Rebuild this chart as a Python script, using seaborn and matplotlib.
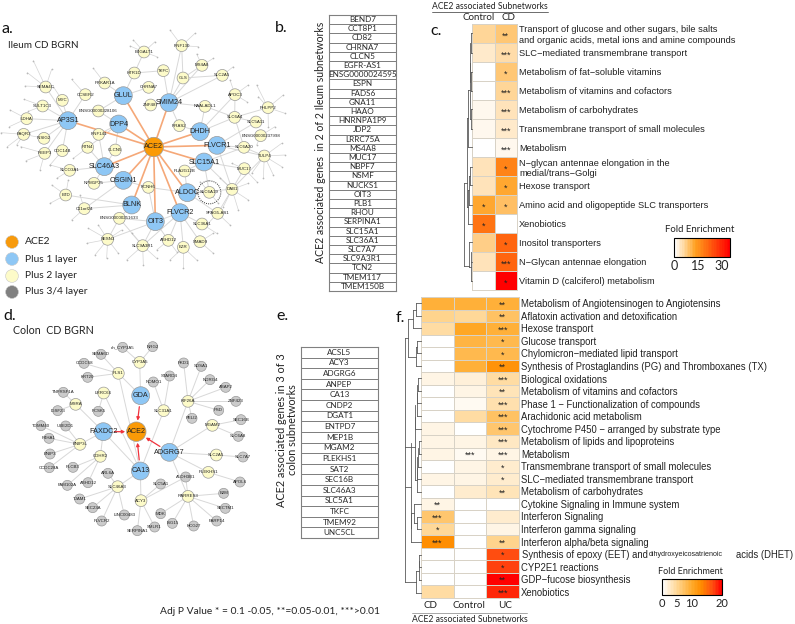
import numpy as np
import pandas as pd
import seaborn as sns
import matplotlib.pyplot as plt
from matplotlib.colors import LinearSegmentedColormap

W, H = 795, 624
SANS = ['Lato', 'DejaVu Sans']
ARIAL = ['Liberation Sans', 'DejaVu Sans']

ileum_ace2 = ('ACE2', 461, 351)
ileum_blue = [('GLUL', 370, 197), ('SMIM24', 507, 218), ('DPP4', 356, 282), ('AP3S1', 204, 272),
              ('DHDH', 600, 305), ('FLVCR1', 651, 346), ('SLC15A1', 612, 396), ('SLC46A3', 313, 410),
              ('OSGIN1', 370, 451), ('ALDOC', 562, 488), ('BLNK', 395, 525), ('FLVCR2', 540, 548),
              ('OIT3', 466, 575)]
ileum_yellow = [('RNF130', 545, 47), ('B4GALT1', 432, 66), ('MS4A8', 606, 106), ('TKFC', 490, 122),
                ('HTR1D', 403, 129), ('GLS', 549, 144), ('SLC2A5', 667, 136), ('PRKAR1A', 314, 159),
                ('CHRNA7', 446, 172), ('SEMA4C', 137, 171), ('APOC3', 705, 194), ('CCSER2', 256, 194),
                ('MYC', 187, 211), ('ZNF487', 452, 225), ('NAALADL1', 615, 229), ('PHLPP2', 804, 233),
                ('SULT1C3', 128, 228), ('ENSG00000228106', 295, 243), ('SLC6A4', 704, 262), ('LDHA', 80, 266),
                ('RRAS2', 538, 287), ('SLC5A11', 768, 276), ('PAQR3', 71, 313), ('RNF141', 296, 313),
                ('ENSG00000237998', 782, 317), ('INSIG2', 132, 325), ('RTN4', 263, 352), ('CLCN5', 346, 360),
                ('SLC6A20', 732, 352), ('CDC14B', 187, 362), ('REEP3', 134, 370), ('TULP4', 793, 378),
                ('SLCO3A1', 209, 421), ('MUC17', 733, 416), ('PLA2G12B', 554, 423), ('NPM1P25', 282, 460),
                ('KCNH6', 445, 472), ('DAB1', 696, 478), ('SLC6A19', 628, 487), ('BTD', 197, 495),
                ('C11orf24', 253, 536), ('SPAG5-AS1', 653, 550), ('ENSG00000251633', 358, 565),
                ('SLC36A1', 606, 582), ('SESN3', 323, 628), ('SLC9A3R1', 428, 647), ('ABHD12', 505, 631),
                ('SMAD9', 600, 635), ('EZR', 550, 652)]
ileum_links = {'AP3S1': ['SEMA4C', 'MYC', 'SULT1C3', 'LDHA', 'PAQR3', 'INSIG2', 'REEP3', 'CDC14B', 'CCSER2'],
               'GLUL': ['PRKAR1A', 'CHRNA7', 'HTR1D', 'ENSG00000228106'],
               'DPP4': ['ENSG00000228106', 'RNF141', 'CLCN5', 'RTN4'],
               'SLC46A3': ['SLCO3A1', 'NPM1P25', 'RTN4', 'RNF141', 'CLCN5'],
               'OSGIN1': ['NPM1P25', 'KCNH6', 'C11orf24'],
               'BLNK': ['ENSG00000251633', 'C11orf24', 'BTD'],
               'OIT3': ['ENSG00000251633', 'SLC9A3R1', 'ABHD12', 'KCNH6'],
               'FLVCR2': ['SLC36A1', 'ABHD12', 'EZR', 'SMAD9', 'SLC9A3R1', 'SESN3'],
               'ALDOC': ['PLA2G12B', 'SLC6A19', 'DAB1', 'SPAG5-AS1', 'KCNH6'],
               'SLC15A1': ['SLC6A19', 'DAB1', 'MUC17', 'PLA2G12B', 'SLC6A20'],
               'FLVCR1': ['SLC6A20', 'TULP4', 'DAB1', 'SLC5A11'],
               'DHDH': ['NAALADL1', 'SLC6A4', 'RRAS2', 'APOC3'],
               'SMIM24': ['TKFC', 'GLS', 'ZNF487', 'RRAS2', 'NAALADL1', 'MS4A8', 'SLC2A5', 'RNF130'],
               'RNF130': ['GLS'], 'HTR1D': ['B4GALT1', 'TKFC'], 'GLS': ['MS4A8', 'SLC2A5'],
               'SLC6A4': ['APOC3', 'SLC5A11', 'NAALADL1', 'PHLPP2'], 'DAB1': ['TULP4', 'MUC17', 'SPAG5-AS1'],
               'SLC6A20': ['TULP4', 'SLC6A4'], 'ENSG00000251633': ['SESN3', 'SLC9A3R1']}
ileum_leaves = {'SEMA4C': [(100, 92), (82, 128), (75, 168), (155, 118)],
                'SULT1C3': [(72, 208), (85, 244)], 'LDHA': [(30, 240), (28, 290)],
                'PAQR3': [(3, 308), (22, 350), (50, 345)], 'REEP3': [(62, 350), (78, 392), (120, 420)],
                'INSIG2': [(82, 315)], 'MYC': [(160, 170)], 'CCSER2': [(215, 148)], 'PRKAR1A': [(280, 115)],
                'B4GALT1': [(400, 30), (390, 48), (465, 35), (470, 80)], 'RNF130': [(510, 0), (585, 10), (595, 50)],
                'MS4A8': [(590, 72), (640, 85)], 'SLC2A5': [(700, 110)], 'APOC3': [(745, 165), (690, 150), (740, 215)],
                'PHLPP2': [(770, 165), (850, 195), (855, 250), (805, 290), (775, 200)],
                'ENSG00000237998': [(825, 290), (770, 345)],
                'TULP4': [(845, 340), (855, 375), (845, 410), (820, 435), (790, 445), (755, 430)],
                'MUC17': [(770, 455), (695, 400)], 'DAB1': [(745, 460), (745, 510), (715, 540), (670, 530), (660, 445)],
                'SLC6A19': [(600, 455), (655, 520)], 'SPAG5-AS1': [(690, 585), (620, 585)],
                'BTD': [(155, 465), (150, 520), (205, 450)], 'SLCO3A1': [(170, 445), (150, 405)],
                'SESN3': [(265, 595), (260, 640), (285, 675), (320, 685), (355, 670), (365, 600), (295, 585)],
                'SLC9A3R1': [(380, 690), (430, 705), (470, 685), (395, 610)],
                'EZR': [(510, 690), (550, 715), (590, 690)], 'SMAD9': [(640, 670), (640, 610)],
                'ABHD12': [(470, 660), (530, 665)], 'C11orf24': [(215, 570), (240, 495)],
                'CDC14B': [(150, 405)], 'RTN4': [(220, 385)], 'SLC36A1': [(650, 610)]}

## Panel d - colon network
colon_ace2 = ('ACE2', 409, 365)
colon_blue = [('GDA', 422, 257), ('FAXDC2', 310, 365), ('ADGRG7', 508, 427), ('CA13', 421, 483)]
colon_yellow = [('CYP3A5', 419, 157), ('PLS1', 355, 190), ('LRRC66', 311, 249), ('KIF26A', 564, 274),
                ('SLC31A1', 491, 302), ('MSRA', 227, 283), ('MGAM2', 637, 346), ('BNIP3L', 240, 403),
                ('CDHR2', 301, 439), ('SLC2A5', 649, 435), ('PLEKHS1', 625, 487), ('SLC46A3', 353, 530),
                ('ACY3', 423, 572), ('RARRES3', 564, 559)]
colon_gray = [('oh_CYP3A5', 368, 112), ('NRG2', 458, 110), ('SEMA6D', 303, 133), ('CCDC68', 252, 160),
              ('KRT20', 263, 202), ('PKD1', 551, 159), ('SDSA1', 604, 169), ('STARD4', 509, 198),
              ('NOMO1', 460, 216), ('NDRG4', 630, 209), ('ABAP2', 677, 232), ('ZNF423', 708, 274),
              ('TNFRSF1A', 190, 247), ('PSD', 656, 301), ('PCSK5', 295, 304), ('PELI2', 576, 325),
              ('IGSF23', 173, 302), ('SEC16B', 723, 329), ('TOMM40', 123, 347), ('UBE2D1', 197, 348),
              ('P4HA1', 147, 385), ('SLC6A8', 715, 379), ('BNIP3', 150, 432), ('SLC7A7', 729, 441),
              ('CCDC28A', 148, 473), ('PLCB3', 219, 472), ('ARL6A', 324, 490), ('ALDH3B1', 557, 501),
              ('APOL6', 720, 516), ('FAM102A', 202, 526), ('ABHD12', 264, 518), ('SLC5A1', 482, 522),
              ('B2M', 671, 550), ('TJAM1', 239, 567), ('SEC23A', 278, 593), ('SECTM1', 676, 595),
              ('LINC00483', 373, 615), ('MDK', 482, 611), ('PARP14', 650, 633), ('FLVCR2', 305, 633),
              ('ISG15', 517, 640), ('SMLR1', 464, 651), ('HCG27', 581, 648), ('SERPINA1', 412, 662)]
colon_links = {'CYP3A5': ['oh_CYP3A5', 'NRG2', 'GDA'], 'PLS1': ['SEMA6D', 'CCDC68', 'KRT20', 'GDA', 'CA13'],
               'LRRC66': ['PCSK5', 'CA13'], 'KIF26A': ['PKD1', 'SDSA1', 'NDRG4', 'ABAP2', 'ZNF423', 'PSD', 'PELI2', 'ADGRG7'],
               'SLC31A1': ['STARD4', 'NOMO1', 'CA13'], 'MSRA': ['TNFRSF1A', 'IGSF23', 'FAXDC2'],
               'MGAM2': ['SEC16B', 'SLC6A8', 'ADGRG7'], 'BNIP3L': ['TOMM40', 'UBE2D1', 'P4HA1', 'BNIP3', 'CCDC28A', 'FAXDC2'],
               'CDHR2': ['PLCB3', 'FAM102A', 'ABHD12', 'FAXDC2'], 'SLC2A5': ['SLC7A7', 'ADGRG7'],
               'PLEKHS1': ['APOL6', 'ADGRG7'], 'SLC46A3': ['ARL6A', 'TJAM1', 'SEC23A', 'FLVCR2', 'LINC00483', 'CA13'],
               'ACY3': ['SLC5A1', 'ALDH3B1', 'SERPINA1', 'SMLR1', 'CA13'],
               'RARRES3': ['B2M', 'SECTM1', 'PARP14', 'HCG27', 'ISG15', 'MDK', 'ALDH3B1', 'ADGRG7'],
               'FAXDC2': ['CA13']}

## Panel b, e - gene lists
genes_b = ['BEND7', 'CCT8P1', 'CD82', 'CHRNA7', 'CLCN5', 'EGFR-AS1', 'ENSG0000024595', 'ESPN', 'FADS6', 'GNA11',
           'HAAO', 'HNRNPA1P9', 'JDP2', 'LRRC75A', 'MS4A8', 'MUC17', 'NBPF7', 'NSMF', 'NUCKS1', 'OIT3', 'PLB1',
           'RHOU', 'SERPINA1', 'SLC15A1', 'SLC36A1', 'SLC7A7', 'SLC9A3R1', 'TCN2', 'TMEM117', 'TMEM150B']
genes_e = ['ACSL5', 'ACY3', 'ADGRG6', 'ANPEP', 'CA13', 'CNDP2', 'DGAT1', 'ENTPD7', 'MEP1B', 'MGAM2', 'PLEKHS1',
           'SAT2', 'SEC16B', 'SLC46A3', 'SLC5A1', 'TKFC', 'TMEM92', 'UNC5CL']

## Panel c - ileum enrichment
terms_c = ['Transport of glucose and other sugars, bile salts\nand organic acids, metal ions and amine compounds',
           'SLC\u2212mediated transmembrane transport', 'Metabolism of fat\u2212soluble vitamins',
           'Metabolism of vitamins and cofactors', 'Metabolism of carbohydrates',
           'Transmembrane transport of small molecules', 'Metabolism',
           'N\u2212glycan antennae elongation in the\nmedial/trans\u2212Golgi', 'Hexose transport',
           'Amino acid and oligopeptide SLC transporters', 'Xenobiotics', 'Inositol transporters',
           'N\u2212Glycan antennae elongation', 'Vitamin D (calciferol) metabolism']
control_c = [6, 3, 0, 0, 1.6, 1.6, 0, 4, 4, 12, 19, 7.5, 4.5, 0]
cd_c = [8, 5, 8.5, 6.5, 4, 3, 1, 17, 12, 9, 0, 21, 21, 35]
stars_control_c = ['', '', '', '', '', '', '', '', '', '*', '*', '', '', '']
stars_cd_c = ['**', '***', '*', '***', '***', '***', '***', '*', '*', '*', '', '*', '***', '*']

## Panel f - colon enrichment
terms_f = ['Metabolism of Angiotensinogen to Angiotensins', 'Aflatoxin activation and detoxification', 'Hexose transport',
           'Glucose transport', 'Chylomicron\u2212mediated lipid transport',
           'Synthesis of Prostaglandins (PG) and Thromboxanes (TX)', 'Biological oxidations',
           'Metabolism of vitamins and cofactors', 'Phase 1 \u2212 Functionalization of compounds',
           'Arachidonic acid metabolism', 'Cytochrome P450 \u2212 arranged by substrate type',
           'Metabolism of lipids and lipoproteins', 'Metabolism', 'Transmembrane transport of small molecules',
           'SLC\u2212mediated transmembrane transport', 'Metabolism of carbohydrates', 'Cytokine Signaling in Immune system',
           'Interferon Signaling', 'Interferon gamma signaling', 'Interferon alpha/beta signaling', '',
           'CYP2E1 reactions', 'GDP\u2212fucose biosynthesis', 'Xenobiotics']
cd_f = [9, 5, 4, 0, 0, 0, 1.2, 0, 0, 0, 1.2, 1, 1, 0, 1, 0, 1.3, 6.5, 4.5, 12.5, 0, 0, 0, 4]
control_f = [9, 4.5, 10, 8.5, 8, 9, 1.6, 1.2, 0.8, 4, 0, 1, 0.9, 1.3, 1.3, 2, 0, 0, 0, 0, 0, 0, 0, 0]
uc_f = [9, 7, 9, 8, 8, 12, 4, 3, 3.5, 7, 6.5, 2.5, 1, 2, 2, 3, 0, 2.3, 1, 5, 16.5, 17, 20, 18]
stars_cd_f = [''] * 16 + ['**', '***', '*', '***', '', '', '', '']
stars_control_f = [''] * 12 + ['***'] + [''] * 11
stars_uc_f = ['**', '**', '***', '*', '*', '**', '***', '**', '***', '***', '***', '***', '***', '*', '*', '**',
              '', '', '', '**', '*', '*', '**', '***']

## dendrogram segments, in 3x crop coordinates
dendro_c = [(122, 100, 127, 100), (122, 160, 127, 160), (122, 100, 122, 160), (122, 215, 127, 215), (122, 272, 127, 272),
            (122, 215, 122, 272), (121, 130, 121, 245), (122, 328, 127, 328), (122, 386, 127, 386), (122, 328, 122, 386),
            (120, 190, 120, 357), (120, 357, 122, 357), (113, 270, 120, 270), (113, 442, 127, 442), (113, 270, 113, 442),
            (120, 500, 127, 500), (120, 556, 127, 556), (120, 500, 120, 556), (118, 528, 120, 528), (118, 614, 127, 614),
            (118, 528, 118, 614), (115, 570, 118, 570), (115, 672, 127, 672), (115, 570, 115, 672), (110, 355, 113, 355),
            (110, 620, 115, 620), (110, 355, 110, 620), (102, 548, 110, 548), (122, 785, 127, 785), (122, 842, 127, 842),
            (122, 755, 122, 842), (118, 727, 127, 727), (118, 727, 118, 800), (118, 800, 122, 800), (102, 798, 118, 798),
            (102, 548, 102, 798)]
dendro_f = [(48, 10, 64, 10), (48, 48, 64, 48), (48, 10, 48, 48), (38, 30, 48, 30), (38, 85, 64, 85), (38, 30, 38, 85),
            (52, 122, 64, 122), (52, 160, 64, 160), (52, 122, 52, 160), (48, 141, 52, 141), (48, 198, 64, 198),
            (48, 141, 48, 198), (25, 58, 38, 58), (25, 170, 48, 170), (25, 58, 25, 170), (54, 235, 64, 235),
            (54, 273, 64, 273), (54, 235, 54, 273), (52, 310, 64, 310), (52, 255, 52, 310), (50, 348, 64, 348),
            (50, 280, 50, 348), (46, 386, 64, 386), (46, 315, 46, 386), (56, 424, 64, 424), (56, 462, 64, 462),
            (56, 424, 56, 462), (54, 500, 64, 500), (54, 443, 54, 500), (52, 538, 64, 538), (52, 470, 52, 538),
            (50, 576, 64, 576), (50, 505, 50, 576), (46, 540, 50, 540), (46, 350, 46, 540), (15, 115, 25, 115),
            (15, 440, 46, 440), (15, 115, 15, 440), (52, 650, 64, 650), (52, 688, 64, 688), (52, 650, 52, 688),
            (42, 612, 64, 612), (42, 612, 42, 670), (42, 670, 52, 670), (34, 640, 42, 640), (34, 726, 64, 726),
            (34, 640, 34, 726), (32, 685, 34, 685), (32, 430, 32, 685), (58, 764, 64, 764), (58, 802, 64, 802),
            (58, 764, 58, 802), (56, 840, 64, 840), (56, 783, 56, 840), (48, 812, 56, 812), (48, 878, 64, 878),
            (48, 812, 48, 878), (15, 845, 48, 845), (15, 560, 32, 560), (15, 440, 15, 845)]

sns.set_theme(style='white')
plt.rcParams['font.family'] = SANS

fig = plt.figure(figsize=(W / 100, H / 100), dpi=100)
fig.patch.set_facecolor('white')


def box(x0, y0, x1, y1):
    return [x0 / W, 1 - y1 / H, (x1 - x0) / W, (y1 - y0) / H]


cmap_c = LinearSegmentedColormap.from_list(
    'fold', [(0, '#ffffff'), (0.06, '#fff1dc'), (0.2, '#ffd08a'), (0.38, '#ffa020'), (0.6, '#ff6a10'), (1, '#ff0000')], N=35)
cmap_f = LinearSegmentedColormap.from_list(
    'fold2', [(0, '#ffffff'), (0.06, '#fff3e0'), (0.25, '#ffd590'), (0.5, '#ffa929'), (0.65, '#ff8c00'), (0.85, '#ff4c10'), (1, '#ff0000')], N=40)


def enrichment(values, stars, cols, terms, rect, cmap, vmax, bar_rect, ticks, size, bar_size):
    ax = fig.add_axes(box(*rect))
    cax = fig.add_axes(box(*bar_rect))
    table = pd.DataFrame(np.array(values).T, columns=cols, index=terms)
    sns.heatmap(table, ax=ax, cmap=cmap, vmin=0, vmax=vmax, linewidths=0.5, linecolor='#d8d2c6',
                annot=np.array(stars).T, fmt='', annot_kws={'fontsize': 6.5, 'color': '#222222', 'family': ARIAL},
                cbar_ax=cax, cbar_kws={'orientation': 'horizontal'})
    for t in ax.texts:
        t.set_y(t.get_position()[1] + 0.12)
    ax.yaxis.tick_right()
    ax.set_yticks(np.arange(len(terms)) + 0.5)
    ax.set_yticklabels(terms, rotation=0, fontsize=size, family=ARIAL, color='#222222', linespacing=1.15)
    ax.set_xticks([])
    ax.set_xlabel('')
    ax.tick_params(axis='y', length=0, pad=1.5)
    for s in ('left', 'bottom', 'top', 'right'):
        ax.spines[s].set_visible(True)
        ax.spines[s].set_color('#d8d2c6')
        ax.spines[s].set_linewidth(0.7)
    cbar = ax.collections[0].colorbar
    cbar.outline.set_visible(True)
    cbar.outline.set_edgecolor('black')
    cbar.outline.set_linewidth(0.8)
    cbar.set_ticks(ticks)
    cbar.set_ticklabels([str(t) for t in ticks])
    cbar.ax.xaxis.set_ticks(np.arange(0, vmax + 0.1, 5), minor=True)
    cbar.ax.tick_params(axis='x', which='both', direction='in', length=3.5, width=0.7, bottom=True,
                        labelsize=bar_size, pad=2, labelcolor='#222222')
    return ax


enrichment([control_c, cd_c], [stars_control_c, stars_cd_c], ['Control', 'CD'], terms_c,
           (472, 24, 517, 290), cmap_c, 35, (674, 238, 730, 257), [0, 15, 30], 6.7, 9)
enrichment([cd_f, control_f, uc_f], [stars_cd_f, stars_control_f, stars_uc_f], ['CD', 'Control', 'UC'], terms_f,
           (421, 297, 519, 598), cmap_f, 20, (662, 579, 722, 595), [0, 5, 10, 20], 6.85, 8)


def gene_table(genes, rect, fontsize):
    ax = fig.add_axes(box(*rect))
    sns.heatmap(np.zeros((len(genes), 1)), ax=ax, cmap=['white'], cbar=False, linewidths=0.7, linecolor='#808080',
                annot=np.array(genes).reshape(-1, 1), fmt='',
                annot_kws={'fontsize': fontsize, 'color': '#2a2a2a'}, xticklabels=False, yticklabels=False)
    for s in ax.spines.values():
        s.set_visible(True)
        s.set_color('#808080')
        s.set_linewidth(0.8)


gene_table(genes_b, (329, 15, 396, 291), 5.9)
gene_table(genes_e, (301, 347, 378, 538), 5.9)

## everything that is not a heatmap goes on one pixel-scaled layer
ov = fig.add_axes([0, 0, 1, 1], facecolor='none')
ov.set_xlim(0, W)
ov.set_ylim(H, 0)
ov.axis('off')


def network(ace2, blue, yellow, gray, links, leaves, dy, label_size):
    to_px = lambda x, y: (x / 3, y / 3 + dy)
    pos = {n: to_px(x, y) for n, x, y in [ace2] + blue + yellow + gray}
    for hub, others in links.items():
        for other in others:
            a, b = pos[hub], pos[other]
            ov.plot([a[0], b[0]], [a[1], b[1]], color='#d8d8d8', lw=0.7, zorder=1)
    for hub, pts in leaves.items():
        a = pos[hub]
        px_pts = [to_px(*p) for p in pts]
        for p in px_pts:
            ov.plot([a[0], p[0]], [a[1], p[1]], color='#d4d4d4', lw=0.5, zorder=1)
        if px_pts:
            ov.scatter(*zip(*px_pts), s=1.5, color='#b8b8b8', linewidths=0, zorder=1.5)
    rows = [(n, pos[n][0], pos[n][1], 'ACE2') for n, _, _ in [ace2]]
    rows += [(n, pos[n][0], pos[n][1], 'blue') for n, _, _ in blue]
    rows += [(n, pos[n][0], pos[n][1], 'yellow') for n, _, _ in yellow]
    rows += [(n, pos[n][0], pos[n][1], 'gray') for n, _, _ in gray]
    nodes = pd.DataFrame(rows, columns=['name', 'x', 'y', 'layer'])
    sns.scatterplot(data=nodes, x='x', y='y', hue='layer', size='layer', ax=ov, legend=False, zorder=3,
                    palette={'ACE2': '#fb9a06', 'blue': '#8ec7f5', 'yellow': '#fdfbc9', 'gray': '#cbcbcb'},
                    sizes={'ACE2': 195, 'blue': 165, 'yellow': 72, 'gray': 52},
                    edgecolor='#9a9a9a', linewidth=0.5)
    ov.set_xlabel('')
    ov.set_ylabel('')
    for n, x, y, layer in rows:
        big = layer in ('ACE2', 'blue')
        ov.text(x, y, n, fontsize=5.2 if big else label_size, ha='center', va='center', color='#222222',
                family=ARIAL, zorder=4)
    return pos


pos_i = network(ileum_ace2, ileum_blue, ileum_yellow, [], ileum_links, ileum_leaves, 30, 3.2)
for n, _, _ in ileum_blue:
    a, b = pos_i['ACE2'], pos_i[n]
    ov.plot([a[0], b[0]], [a[1], b[1]], color='#f5a878', lw=1.2, zorder=2)
ring = plt.Circle(pos_i['SLC6A19'], 11.5, fill=False, ls=(0, (1, 1.2)), lw=0.7, ec='#333333', zorder=3.5)
ov.add_patch(ring)

pos_c = network(colon_ace2, colon_blue, colon_yellow, colon_gray, colon_links, {}, 310, 3.2)
for n, _, _ in colon_blue:
    ov.annotate('', xy=pos_c['ACE2'], xytext=pos_c[n], zorder=2,
                arrowprops=dict(arrowstyle='-|>', color='#f0323c', lw=0.9, mutation_scale=4.5, shrinkA=8, shrinkB=8))

ov.set_xlim(0, W)
ov.set_ylim(H, 0)

## legend of panel a
legend_labels = ['ACE2', 'Plus 1 layer', 'Plus 2 layer', 'Plus 3/4 layer']
legend_colors = ['#f79a0c', '#8ec7f5', '#fdfbc9', '#808080']
legend_y = [242, 259, 276, 292]
ov.scatter([12] * 4, legend_y, s=85, c=legend_colors, edgecolors='#c8c8c8', linewidths=0.4)
for lab, y in zip(legend_labels, legend_y):
    ov.text(25, y, lab, fontsize=7.4, va='center', color='#222222')

## panel letters and titles
for letter, x, y in [('a.', 2, 29), ('b.', 275, 28), ('c.', 430, 31), ('d.', 3, 316), ('e.', 276, 316), ('f.', 396, 318)]:
    ov.text(x, y, letter, fontsize=11.5, va='center', color='#111111')
ov.text(8, 46, 'Ileum CD BGRN', fontsize=7.1, va='center', color='#222222')
ov.text(13, 331, 'Colon  CD BGRN', fontsize=7.7, va='center', color='#222222')

ov.text(320, 142, 'ACE2 associated genes  in 2 of 2 Ileum subnetworks', rotation=90, fontsize=7.6,
        ha='center', va='center', color='#222222')
ov.text(287, 430, 'ACE2 associated genes in 3 of 3\ncolon subnetworks', rotation=90, fontsize=7.8,
        ha='center', va='center', color='#222222', linespacing=1.0)
ov.text(160, 612, 'Adj P Value * = 0.1 -0.05, **=0.05-0.01, ***>0.01', fontsize=7.4, va='center', color='#222222')

ov.text(432, 6.5, 'ACE2 associated Subnetworks', fontsize=6.2, va='center', color='#222222')
ov.plot([432, 548], [11.5, 11.5], color='#555555', lw=0.6)
ov.text(479, 18, 'Control', fontsize=7, ha='center', va='center', color='#222222')
ov.text(508, 18, 'CD', fontsize=7, ha='center', va='center', color='#222222')
ov.text(700, 229.5, 'Fold Enrichment', fontsize=6.9, ha='center', va='center', color='#222222')
ov.text(690, 571, 'Fold Enrichment', fontsize=6.5, ha='center', va='center', color='#222222')

ov.text(430, 606, 'CD', fontsize=7.1, ha='center', va='center', color='#222222')
ov.text(469, 606, 'Control', fontsize=7.1, ha='center', va='center', color='#222222')
ov.text(505, 606, 'UC', fontsize=7.1, ha='center', va='center', color='#222222')
ov.plot([412, 527], [612.5, 612.5], color='#999999', lw=0.6)
ov.text(470, 619, 'ACE2 associated Subnetworks', fontsize=6.2, ha='center', va='center', color='#222222')

## the one label with a small-print word in it
ov.text(521.8, 554.5, 'Synthesis of epoxy (EET) and', fontsize=6.85, va='center', family=ARIAL, color='#222222')
ov.text(649, 555, 'dihydroxyeicosatrienoic', fontsize=5.1, va='center', family=ARIAL, color='#222222')
ov.text(736.5, 554.5, 'acids (DHET)', fontsize=6.85, va='center', family=ARIAL, color='#222222')


def dendro(segments, dx, dy):
    for x0, y0, x1, y1 in segments:
        ov.plot([x0 / 3 + dx, x1 / 3 + dx], [y0 / 3 + dy, y1 / 3 + dy], color='#5a5a5a', lw=0.6, solid_capstyle='projecting')


dendro(dendro_c, 430, 0)
dendro(dendro_f, 400, 300)

plt.savefig('out.png', dpi=100)
